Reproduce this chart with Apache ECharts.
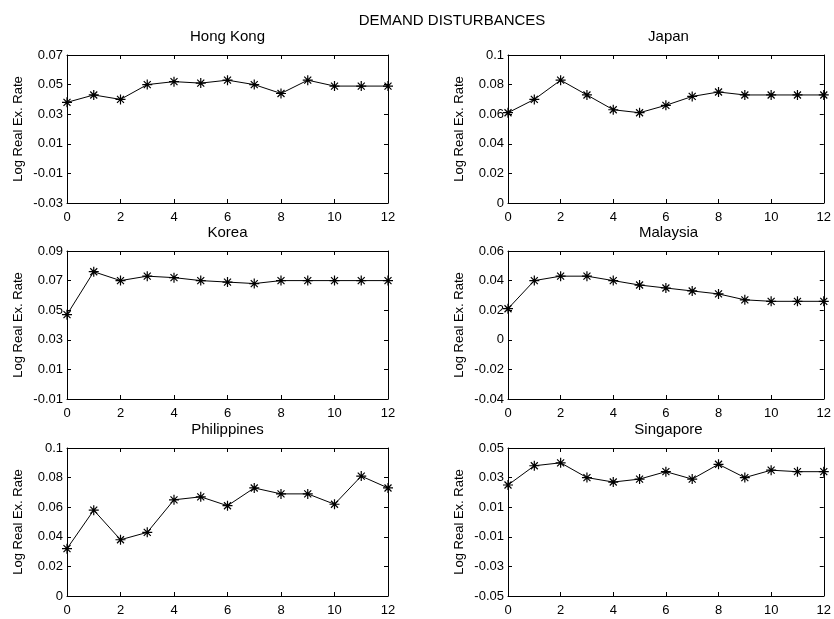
<!DOCTYPE html>
<html><head><meta charset="utf-8">
<script src="https://cdn.jsdelivr.net/npm/echarts@6/dist/echarts.min.js"></script>
<style>html,body{margin:0;padding:0;background:#fff}#c{width:834px;height:619px}</style>
</head><body><div id="c"></div>
<script>
const chartTitle = "DEMAND DISTURBANCES";
const yAxisName = "Log Real Ex. Rate";
const horizons = [0,1,2,3,4,5,6,7,8,9,10,11,12];
const panelNames = ["Hong Kong","Japan","Korea","Malaysia","Philippines","Singapore"];
const hongKong    = [0.038,0.043,0.040,0.050,0.052,0.051,0.053,0.050,0.044,0.053,0.049,0.049,0.049];
const japan       = [0.061,0.070,0.083,0.073,0.063,0.061,0.066,0.072,0.075,0.073,0.073,0.073,0.073];
const korea       = [0.047,0.076,0.070,0.073,0.072,0.070,0.069,0.068,0.070,0.070,0.070,0.070,0.070];
const malaysia    = [0.021,0.040,0.043,0.043,0.040,0.037,0.035,0.033,0.031,0.027,0.026,0.026,0.026];
const philippines = [0.032,0.058,0.038,0.043,0.065,0.067,0.061,0.073,0.069,0.069,0.062,0.081,0.073];
const singapore   = [0.025,0.038,0.040,0.030,0.027,0.029,0.034,0.029,0.039,0.030,0.035,0.034,0.034];
const panelValues = [hongKong,japan,korea,malaysia,philippines,singapore];
const yMins = [-0.03,0,-0.01,-0.04,0,-0.05];
const yMaxs = [0.07,0.1,0.09,0.06,0.1,0.05];
const yInterval = 0.02;
const xMin = 0, xMax = 12, xInterval = 2;

const FONT = "Arial, 'Liberation Sans', Helvetica, sans-serif";
const FS = 13, TFS = 15;
const gridLefts = [67,508];
const gridTops = [55,251,448];
const gridW = 321, gridH = 148;
const asterisk = 'path://M5,0L5,10M0,5L10,5M1.5,1.5L8.5,8.5M1.5,8.5L8.5,1.5';
const fmt = v => String(parseFloat(Number(v).toFixed(4)));

const grids=[], xAxes=[], yAxes=[], series=[], graphics=[];
graphics.push({type:'text', x: 452, y: 21, style:{text: chartTitle, font: TFS+'px '+FONT, fill:'#000', textAlign:'center', textVerticalAlign:'middle'}});
panelNames.forEach((name,i)=>{
  const col = i%2, row = Math.floor(i/2);
  const L = gridLefts[col], T = gridTops[row];
  grids.push({left:L, top:T, width:gridW, height:gridH, containLabel:false});
  graphics.push({type:'text', x: L+gridW/2, y: T-18, style:{text:name, font: TFS+'px '+FONT, fill:'#000', textAlign:'center', textVerticalAlign:'middle'}});
  const axLine = {show:true, onZero:false, lineStyle:{color:'#000', width:1}};
  const tick = {show:true, inside:true, length:4, lineStyle:{color:'#000'}};
  xAxes.push({type:'value', gridIndex:i, min:xMin, max:xMax, interval:xInterval, position:'bottom',
    axisLine:axLine, axisTick:tick, splitLine:{show:false},
    axisLabel:{show:true, margin:8, color:'#000', fontSize:FS, fontFamily:FONT}});
  xAxes.push({type:'value', gridIndex:i, min:xMin, max:xMax, interval:xInterval, position:'top',
    axisLine:axLine, axisTick:tick, splitLine:{show:false}, axisLabel:{show:false}});
  yAxes.push({type:'value', gridIndex:i, min:yMins[i], max:yMaxs[i], interval:yInterval, position:'left',
    name:yAxisName, nameLocation:'middle', nameGap:42, nameTextStyle:{color:'#000', fontSize:FS, fontFamily:FONT},
    axisLine:axLine, axisTick:tick, splitLine:{show:false},
    axisLabel:{show:true, margin:4, color:'#000', fontSize:FS, fontFamily:FONT, formatter:fmt}});
  yAxes.push({type:'value', gridIndex:i, min:yMins[i], max:yMaxs[i], interval:yInterval, position:'right',
    axisLine:axLine, axisTick:tick, splitLine:{show:false}, axisLabel:{show:false}});
  series.push({type:'line', name:name, xAxisIndex:2*i, yAxisIndex:2*i,
    data: horizons.map((h,k)=>[h, panelValues[i][k]]),
    symbol: asterisk, symbolSize: 10, showAllSymbol:true,
    lineStyle:{color:'#000', width:1},
    itemStyle:{color:'#000', borderColor:'#000', borderWidth:1.2}});
});

const chart = echarts.init(document.getElementById('c'));
chart.setOption({
  animation:false,
  backgroundColor:'#fff',
  grid:grids, xAxis:xAxes, yAxis:yAxes, series:series, graphic:graphics,
  tooltip:{show:false}
});
</script></body></html>
